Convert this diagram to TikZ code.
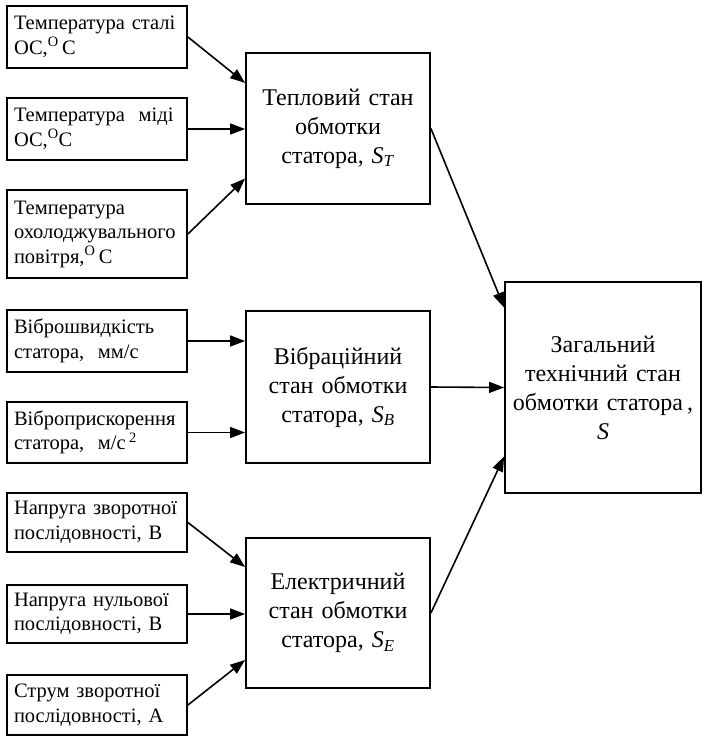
\documentclass[tikz,border=0pt]{standalone}
\usepackage{fontspec}
\setmainfont{Liberation Serif}
\usetikzlibrary{arrows.meta,calc}
\newcommand\Ssub[1]{\textit{S}\textsubscript{\textit{#1}}}
\begin{document}
\begin{tikzpicture}[x=1pt,y=-1pt,
  inbox/.style={draw,line width=1.8pt,minimum width=180pt,text width=166pt,inner xsep=7pt,align=left,
     font=\fontsize{20.5}{24.5}\selectfont},
  midbox/.style={draw,line width=1.8pt,minimum width=184pt,text width=176pt,inner xsep=4pt,align=center,
     font=\fontsize{24}{29}\selectfont},
  arr/.style={line width=1.6pt,-{Triangle[length=15pt,width=11pt]}}]
\useasboundingbox (0,0) rectangle (702,736);
\node[inbox,minimum height=62pt] (b1) at (97,37) {Температура сталі\\ОС,\textsuperscript{O}\,С};
\node[inbox,minimum height=62pt] (b2) at (97,129) {Температура\ \ міді\\ОС,\textsuperscript{O}С};
\node[inbox,minimum height=88pt] (b3) at (97,234) {Температура\\охолоджувального\\повітря,\textsuperscript{O}\,С};
\node[inbox,minimum height=62pt] (b4) at (97,341) {Віброшвидкість\\статора,\ \ мм/с};
\node[inbox,minimum height=61pt] (b5) at (97,432.5) {Віброприскорення\\статора,\ \ м/с\,\textsuperscript{2}};
\node[inbox,minimum height=59pt] (b6) at (97,522.5) {Напруга зворотної\\послідовності, В};
\node[inbox,minimum height=58pt] (b7) at (97,614) {Напруга нульової\\послідовності, В};
\node[inbox,minimum height=60pt] (b8) at (97,705) {Струм зворотної\\послідовності, А};
\node[midbox,minimum height=151pt] (T) at (338,128.5) {Тепловий стан\\обмотки\\статора, \Ssub{T}};
\node[midbox,minimum height=152pt] (B) at (338,387) {Вібраційний\\стан обмотки\\статора, \Ssub{B}};
\node[midbox,minimum height=150pt] (E) at (338,613) {Електричний\\стан обмотки\\статора, \Ssub{E}};
\node[midbox,minimum width=196pt,text width=196pt,inner xsep=0pt,minimum height=211pt] (R) at (603,387.5) {Загальний\\технічний стан\\обмотки статора\,,\\\textit{S}};
\draw[arr] (b1.east) -- ([yshift=45.5pt]T.west);
\draw[arr] (b2.east) -- (b2.east -| T.west);
\draw[arr] (b3.east) -- ([yshift=-50pt]T.west);
\draw[arr] (b4.east) -- (b4.east -| B.west);
\draw[arr] (b5.east) -- (b5.east -| B.west);
\draw[arr] (b6.east) -- ([yshift=46pt]E.west);
\draw[arr] (b7.east) -- (b7.east -| E.west);
\draw[arr] (b8.east) -- ([yshift=-47pt]E.west);
\draw[arr] (T.east) -- ([yshift=80pt]R.west);
\draw[arr] (B.east) -- (R.west);
\draw[arr] (E.east) -- ([yshift=-69pt]R.west);
\end{tikzpicture}
\end{document}
